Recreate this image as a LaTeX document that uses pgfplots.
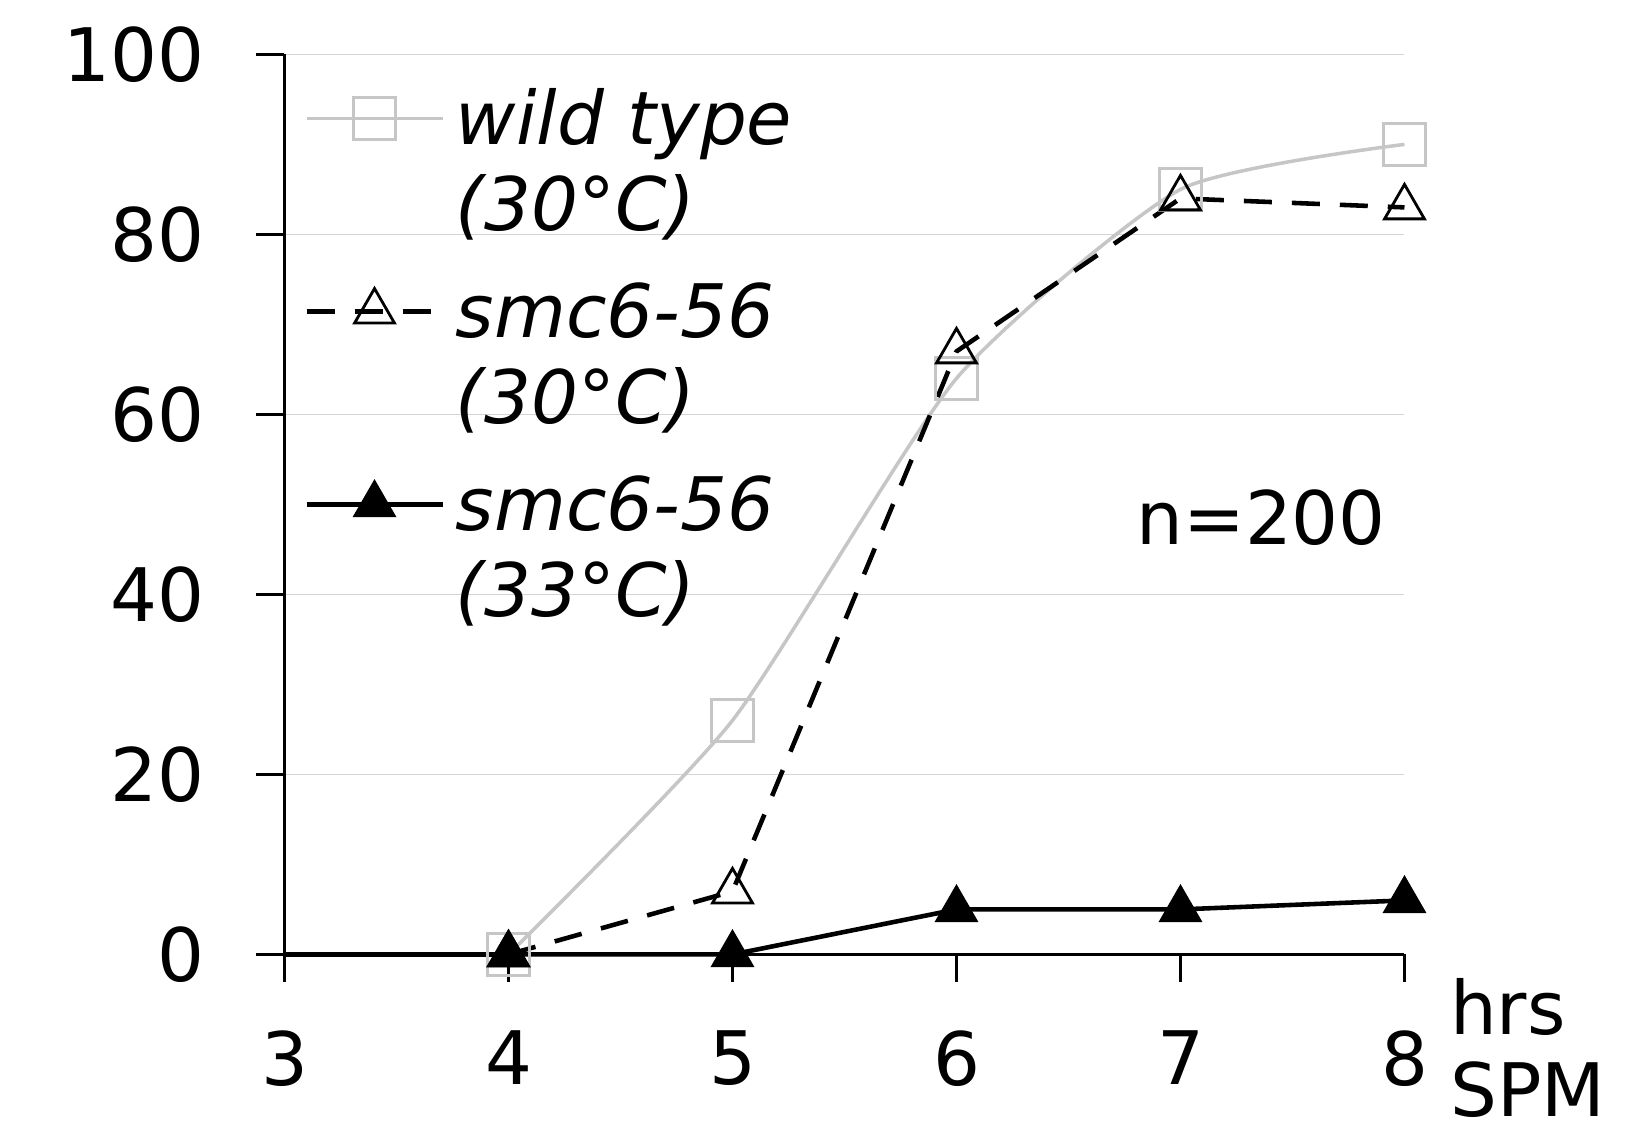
\documentclass[border=0pt]{standalone}
\usepackage{fontspec}
\setmainfont{DejaVu Sans}
\usepackage{pgfplots}
\pgfplotsset{compat=1.18}

\definecolor{wtgray}{RGB}{198,198,198}
\definecolor{gridgray}{RGB}{212,212,212}

\newcommand{\lx}{\hspace*{1.1mm}}

\begin{document}
\begin{tikzpicture}
\begin{axis}[
  at={(0,0)}, anchor=south west,
  scale only axis,
  width=112mm, height=90mm,
  xmin=3, xmax=8, ymin=0, ymax=100,
  xtick={3,4,5,6,7,8},
  ytick={0,20,40,60,80,100},
  axis x line=bottom, axis y line=left,
  axis line style={-, line width=0.85pt, black},
  tick align=outside,
  major tick length=2.8mm,
  tick style={line width=0.85pt, black},
  ymajorgrids=true,
  grid style={gridgray, line width=0.5pt},
  tick label style={font=\fontsize{21}{25}\selectfont},
  yticklabel style={xshift=-4.0mm},
  xticklabel style={yshift=-3.6mm},
  /pgf/number format/assume math mode=true,
  clip=false,
  legend style={at={(axis description cs:0.017,0.989)}, anchor=north west,
    draw=none, fill=none, inner sep=0pt, row sep=0pt,
    font=\fontsize{21}{25}\selectfont\itshape,
    nodes={inner sep=0pt, text height=5.8mm, text depth=2.8mm}},
  legend cell align=left,
  legend image code/.code={
    \draw[mark repeat=2, mark phase=2] plot coordinates {(0mm,0mm) (6.8mm,0mm) (13.6mm,0mm)};
  },
]
% black series runs along zero before the first marker
\addplot[forget plot, black, line width=1.3pt] coordinates {(3,0) (4,0)};

\addplot[wtgray, line width=1pt, smooth, tension=0.35, mark=square, mark size=2.1mm,
  mark options={solid, fill=none, line width=0.7pt}]
  coordinates {(4,0) (5,26) (6,64) (7,85) (8,90)};
\addlegendentry[text height=7.9mm]{\lx wild type}
\addlegendimage{empty legend}
\addlegendentry{\lx (30°C)}

\addplot[black, line width=1.3pt, dash pattern=on 2.8mm off 2mm, mark=triangle, mark size=2.3mm,
  mark options={solid, fill=none, line width=0.8pt}]
  coordinates {(4,0) (5,7) (6,67) (7,84) (8,83)};
\addlegendentry[text height=7.9mm]{\lx smc6-56}
\addlegendimage{empty legend}
\addlegendentry{\lx (30°C)}

\addplot[black, line width=1.3pt, mark=triangle*, mark size=2.4mm,
  mark options={solid, fill=black, line width=0.4pt}]
  coordinates {(4,0) (5,0) (6,5) (7,5) (8,6)};
\addlegendentry[text height=7.9mm]{\lx smc6-56}
\addlegendimage{empty legend}
\addlegendentry{\lx (33°C)}

\node[font=\fontsize{21}{25}\selectfont] at (axis cs:7.36,48.5) {n=200};
\node[font=\fontsize{21}{25}\selectfont, anchor=north west, align=left, inner sep=0pt]
  at (axis cs:8,0) [xshift=4.5mm, yshift=-2.3mm] {hrs\\[-0.6mm]SPM};
\end{axis}
\pgfresetboundingbox
\path[use as bounding box] (-28.45mm,-17mm) rectangle (135.55mm,95.44mm);
\end{tikzpicture}
\end{document}
